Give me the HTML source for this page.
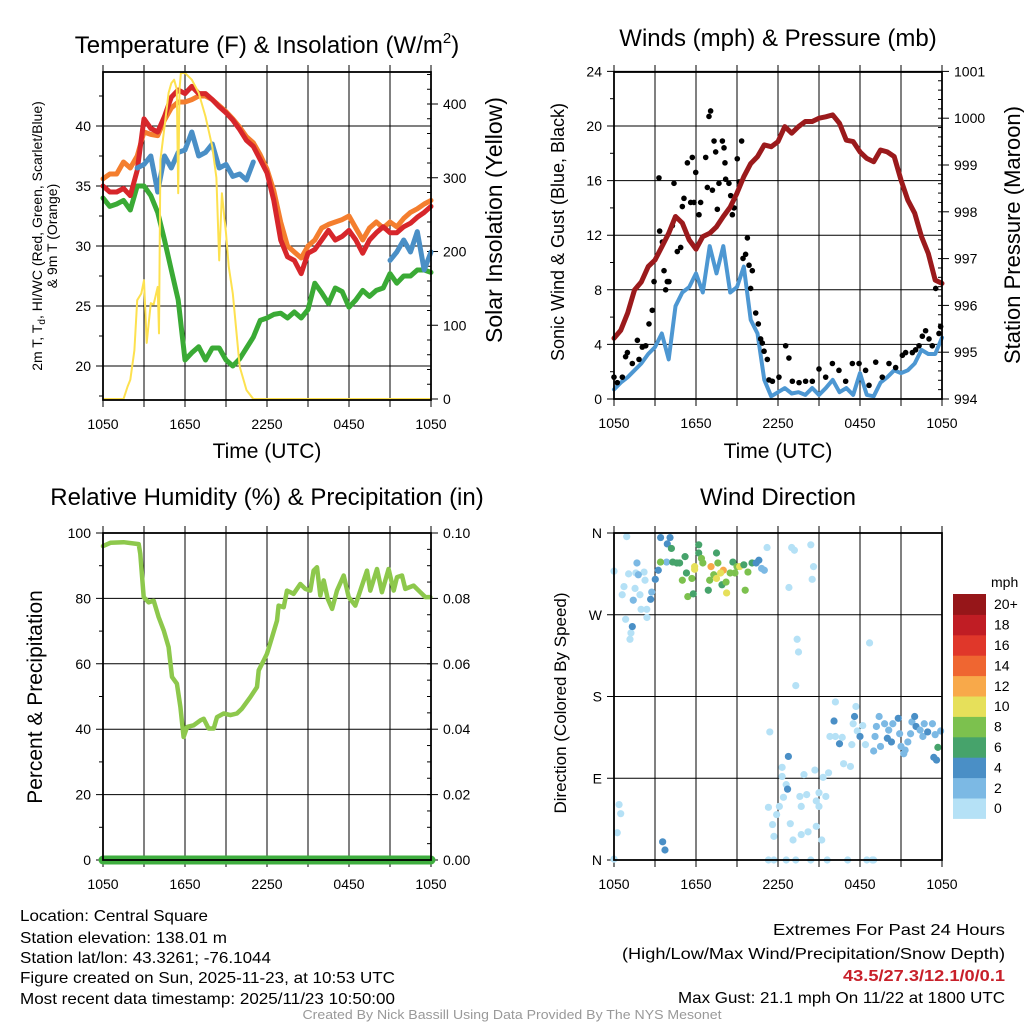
<!DOCTYPE html>
<html><head><meta charset="utf-8"><style>
html,body{margin:0;padding:0;background:#fff;}
svg{display:block;font-family:"Liberation Sans",sans-serif;}
</style></head><body>
<svg id="chart" width="1024" height="1024" viewBox="0 0 1024 1024" xmlns="http://www.w3.org/2000/svg">
<rect width="1024" height="1024" fill="#fff"/>
<g id="layer"></g>
<g font-size="24" text-anchor="middle" fill="#000">
<text x="267" y="53">Temperature (F) &amp; Insolation (W/m<tspan font-size="15" dy="-10">2</tspan><tspan dy="10">)</tspan></text>
<text x="778" y="46">Winds (mph) &amp; Pressure (mb)</text>
<text x="267" y="505">Relative Humidity (%) &amp; Precipitation (in)</text>
<text x="778" y="505">Wind Direction</text>
</g>
<g font-size="21" text-anchor="middle">
<text x="267" y="458">Time (UTC)</text>
<text x="778" y="458">Time (UTC)</text>
<text font-size="23" transform="translate(502,220) rotate(-90)">Solar Insolation (Yellow)</text>
<text font-size="22" transform="translate(1020,235) rotate(-90)">Station Pressure (Maroon)</text>
<text font-size="21" transform="translate(42,697) rotate(-90)">Percent &amp; Precipitation</text>
</g>
<g font-size="18" text-anchor="middle">
<text transform="translate(564,232) rotate(-90)">Sonic Wind &amp; Gust (Blue, Black)</text>
<text font-size="17" transform="translate(566,703) rotate(-90)">Direction (Colored By Speed)</text>
</g>
<g font-size="14" text-anchor="middle">
<text transform="translate(42,236) rotate(-90)">2m T, T<tspan font-size="10" dy="3">d</tspan><tspan dy="-3">, HI/WC (Red, Green, Scarlet/Blue)</tspan></text>
<text transform="translate(57,236) rotate(-90)">&amp; 9m T (Orange)</text>
</g>
<g font-size="16" fill="#000">
<text x="20" y="921" textLength="188" lengthAdjust="spacingAndGlyphs">Location: Central Square</text>
<text x="20" y="943" textLength="207" lengthAdjust="spacingAndGlyphs">Station elevation: 138.01 m</text>
<text x="20" y="963" textLength="251" lengthAdjust="spacingAndGlyphs">Station lat/lon: 43.3261; -76.1044</text>
<text x="20" y="983" textLength="375" lengthAdjust="spacingAndGlyphs">Figure created on Sun, 2025-11-23, at 10:53 UTC</text>
<text x="20" y="1004" textLength="375" lengthAdjust="spacingAndGlyphs">Most recent data timestamp: 2025/11/23 10:50:00</text>
</g>
<g font-size="16" text-anchor="end">
<text x="1005" y="935" textLength="232" lengthAdjust="spacingAndGlyphs">Extremes For Past 24 Hours</text>
<text x="1005" y="959" textLength="383" lengthAdjust="spacingAndGlyphs">(High/Low/Max Wind/Precipitation/Snow Depth)</text>
<text x="1005" y="981" fill="#c8202a" font-weight="bold" textLength="162" lengthAdjust="spacingAndGlyphs">43.5/27.3/12.1/0/0.1</text>
<text x="1005" y="1003" textLength="327" lengthAdjust="spacingAndGlyphs">Max Gust: 21.1 mph On 11/22 at 1800 UTC</text>
</g>
<text x="512" y="1019" font-size="13" fill="#999" text-anchor="middle" textLength="419" lengthAdjust="spacingAndGlyphs">Created By Nick Bassill Using Data Provided By The NYS Mesonet</text>
</svg>
<script>
// ---------- data ----------
const timeTickLabels = ["1050","","1650","","2250","","0450","","1050"];
const halfHours = [0,0.5,1,1.5,2,2.5,3,3.5,4,4.5,5,5.5,6,6.5,7,7.5,8,8.5,9,9.5,10,10.5,11,11.5,12,12.5,13,13.5,14,14.5,15,15.5,16,16.5,17,17.5,18,18.5,19,19.5,20,20.5,21,21.5,22,22.5,23,23.5,24];
const temp2m = [35,34.5,34.5,34.8,34.2,36.3,40.6,39.8,39.5,40.8,42.4,43,42.7,43.3,42.7,42.7,42.2,41.6,41.1,40.5,39.7,38.8,38.3,37.2,36.1,33.8,30.5,29.1,28.8,27.7,29.4,29.7,30.5,31.3,30.5,30.8,31.3,30.5,29.4,30.5,31.1,31.6,31.1,31.1,31.6,31.9,32.4,32.8,33.3];
const temp9m = [35.6,36,36,37,36.5,37.5,39.5,39.3,39.2,40.5,41.5,42,42,42.2,42.5,42.5,42.2,41.7,41.2,40.6,39.9,39.1,38.6,37.6,36.4,34.6,32,30,29.5,29,30,30.5,31.5,31.8,32,32.2,32.5,31.5,30.5,31.5,32,31.5,32,31.6,32.3,32.8,33.1,33.5,33.8];
const heatIndexWindChill = [null,null,null,null,null,36.5,36.8,37.5,34.5,37.5,36.5,37.8,38,39.5,37.5,37.8,38.5,36.5,36.8,35.8,36,35.5,37,null,null,null,null,null,null,null,null,null,null,null,null,null,null,null,null,null,null,null,28.8,29.5,30.5,29.5,31.2,28,29.5];
const dewPoint = [34,33.3,33.5,33.8,33,35,35,34.2,32.8,30.5,28,25.5,20.5,21.1,21.6,20.5,21.5,21.5,20.5,20,20.6,21.5,22.4,23.8,24,24.3,24.4,24,24.5,24,24.7,26.9,26.1,25.2,26.5,26.2,24.9,25.5,26.3,25.8,26.3,26.5,27.7,26.9,27.5,27.5,28,28,27.8];
const solarHours = [0,1.5,1.8,2,2.3,2.5,2.8,3,3.2,3.5,3.7,4,4.1,4.2,4.5,4.8,5,5.2,5.4,5.5,5.6,5.7,6,6.5,7,7.5,8,8.3,8.5,8.7,9,9.2,9.5,10,10.5,11,24];
const solarVals = [0,0,17,26,66,134,143,161,76,130,128,152,89,324,369,415,428,433,420,279,420,442,442,433,415,383,342,300,188,279,225,180,143,44,12,0,0];
const pressure = [995.3,995.47,995.84,996.33,996.5,996.83,996.97,997.25,997.54,997.9,997.76,997.4,997.2,997.47,997.54,997.68,997.9,998.1,998.4,998.75,999.03,999.18,999.43,999.39,999.5,999.82,999.68,999.82,999.93,999.93,1000,1000.03,1000.07,999.89,999.53,999.5,999.28,999.14,999.07,999.32,999.28,999.18,998.68,998.25,997.97,997.47,997.11,996.54,996.47];
const sonicWind = [0.7,1.2,1.6,2.1,2.6,3.3,3.8,4.8,2.9,6.8,7.8,8.2,9.2,7.8,11.2,9.2,11.2,7.8,8.2,9.7,5.8,4.8,1.4,0.2,0.5,0.8,0.4,0.5,0.3,0.8,0.3,0.8,1.4,0.5,0.8,0.3,1.9,0.3,0.2,1.2,1.6,2.1,1.9,2.1,2.6,3.6,3.3,3.3,4.5];
const gustHours = [0,0.24,0.61,0.85,0.98,1.34,1.71,1.83,2.07,2.32,2.56,2.8,2.93,3.29,3.34,3.54,3.66,3.78,3.9,4.02,4.27,4.39,4.51,4.63,4.88,5,5.12,5.37,5.61,5.73,5.85,5.98,6.22,6.34,6.71,6.83,6.95,7.07,7.2,7.32,7.44,7.56,7.68,7.93,8.05,8.12,8.17,8.41,8.54,8.66,8.78,9.02,9.15,9.34,9.44,9.63,9.76,9.88,10,10.12,10.37,10.56,10.73,10.85,10.98,11.22,11.34,11.59,12.07,12.56,12.8,13.05,13.54,14.02,14.51,15,15.49,15.98,16.46,16.95,17.44,17.93,18.41,18.66,19.15,19.63,20.12,20.61,21.1,21.34,21.83,22.07,22.32,22.56,22.8,23.05,23.29,23.54,23.78,23.9];
const gustMph = [1.6,1.2,1.6,3.1,3.4,2.6,4.3,2.9,3.8,3.9,5.5,6.5,8.6,16.2,12.3,11.5,9.4,8,8.6,8.6,12.7,15.8,13.3,10.8,11.1,14.1,14.7,17.3,14.4,17.7,14.4,16.6,13.5,14.4,17.7,15.5,20.7,21.1,15.3,18.9,18.1,13.9,15.8,18.9,18.4,17.3,16.1,15.8,14.9,13.5,14,17.6,15.9,18.9,10.3,10.6,11.8,9.8,8.1,9.4,6.3,5.5,4.4,4.1,3.5,2.9,1.4,1.3,1.6,3.9,3,1.3,1.2,1.3,1.3,2.2,1.6,2.6,2.1,1.3,2.6,2.6,2.1,1,2.7,1.6,2.6,2.3,3.2,3.4,3.4,3.6,3.9,4.6,5,4.4,3.9,8.1,4.8,5.3];
const rhHours = [0,0.54,1.51,2.61,2.73,2.98,3.34,3.71,4.07,4.44,4.8,5.05,5.41,5.66,5.9,6.15,6.63,7.12,7.37,7.73,8.1,8.34,8.83,9.32,9.8,10.17,10.78,11.27,11.39,11.76,12,12.37,12.73,12.85,13.22,13.46,13.95,14.44,14.8,15.17,15.41,15.66,15.9,16.15,16.44,16.76,17.12,17.61,17.98,18.46,18.83,19.32,19.56,20.05,20.41,20.9,21.27,21.51,21.88,22.12,22.73,23.22,23.59,23.95];
const rhVals = [96,97,97.2,96.6,93.6,80.4,78.8,79.3,74.3,70.2,65.1,56,53.9,46.8,37.6,40.7,41.2,42.7,43.2,40.2,40.2,43.7,44.8,44.3,44.8,46.3,49.8,52.9,58,61,63.1,68.2,73.2,77.8,77.3,82.4,81.4,84.4,82.9,82.4,88.5,89.5,80.9,85.5,79.9,76.8,82.4,87,80.4,77.8,82.4,88.5,82.4,89,81.9,89,82.4,86.5,87,82.9,83.9,81.9,80.4,80.4];
const precipHours = [0,24];
const precipVals = [0,0];
const dirHours = [0,0.93,0.6,0.73,1.07,1.6,1.9,2.2,2.27,1.54,1.98,2.4,2.41,0.85,1.24,1.17,2.76,1.68,1.41,1.78,1.34,2.68,3.02,3.24,3.41,4.1,3.9,3.85,3.4,4.2,4.3,4.8,5.2,5,5.4,5.8,5.7,5.9,6.2,6.2,6.4,7,6.9,7.1,7.3,7.5,7.5,7.6,7.9,8,8.2,8.24,8.5,8.7,9,9.2,9.6,9.8,10.1,10.4,10.6,10.8,11,4.6,5.3,6.5,5.9,7.8,8.85,9.5,11.2,13,13.2,14.4,14.6,14.5,12.8,13.4,13.5,18.7,13.3,11.4,0.37,0.49,0.24,0,3.56,3.73,11.3,11.6,11.7,11.9,12.1,12.3,12.3,12.4,12.6,12.7,12.76,12.9,13.1,13.6,13.7,13.9,14.1,14.2,13.7,14.7,14.8,15,15,15.2,15.3,15.5,15.7,14.8,11.3,11.7,12.6,13.3,14.4,15.6,17.1,18.5,18.9,19,16.2,16.1,15.8,16.2,16.5,16.7,16.8,17.3,17.4,17.5,17.7,17.6,17.8,18,18.2,18.4,19,19.1,19.2,19.4,19.5,19.8,20,20.1,20.3,20.4,20.8,20.9,21,21.2,21.3,21.5,21.7,21.8,22,22.1,22.4,22.6,22.7,22.95,23.3,23.5,23.7,23.4,23.6,23.9];
const dirDegs = [318,356,292,301,315,316,292,317,308,299,276,276,267,265,250,243,295,327,286,314,257,287,309,319,355,355,348,328,328,343,328,327,334,308,290,293,310,320,347,338,332,308,297,323,314,338,310,327,303,319,306,294,316,328,323,323,297,317,327,327,330,321,319,327,316,327,323,316,316,325,344,344,341,347,323,309,300,243,229,239,192,141,61,51,30,1,20,11,58,39,26,50,59,92,102,69,83,78,114,40,22,70,59,94,72,31,28,99,65,74,59,22,91,70,96,37,0,0,0,0,0,0,0,0,0,0,174,153,136,136,128,135,106,103,127,150,169,158,142,136,148,127,120,136,147,158,125,150,134,143,130,150,156,139,125,117,121,130,139,152,158,147,143,136,150,141,150,138,124,113,110,142];
const dirSpeeds = [1,1,1,1,1,1,1,1,1,1,1,1,1,1,1,1,3,3,3,3,5,5,5,5,5,5,5,3,8,7,6,7,7,8,8,7,9,10,6,7,8,8,6,13,9,6,10,9,6,13,8,10,8,7,9,11,8,8,6,5,4,3,2,6,7,8,10,10,8,7,1,1,1,1,1,1,1,1,1,1,1,1,1,1,1,1,5,5,1,1,1,1,1,1,1,1,1,5,5,1,1,1,1,1,1,1,1,1,1,1,1,1,1,1,1,1,1,1,1,1,1,1,1,1,1,1,1,5,1,1,5,1,1,1,1,1,1,5,1,5,1,1,3,3,3,3,3,3,5,3,5,3,5,3,3,3,3,3,3,3,5,5,3,3,3,5,3,3,6,5,5,3];
const speedBinLabels = ["0","2","4","6","8","10","12","14","16","18","20+"];
const speedBinColors = ["#b5e1f6","#7cb9e4","#4a8fc6","#46a36b","#7cc14e","#e6e05a","#f8a94a","#ef6631","#e0372a","#c01d24","#961619"];

// ---------- scales ----------
const P1 = {x0:103, x1:431, top:72, bottom:400};
const P2 = {x0:614, x1:942, top:72, bottom:399};
const P3 = {x0:103, x1:431, top:533, bottom:860};
const P4 = {x0:614, x1:942, top:533, bottom:860};
function xs(p,h){ return p.x0 + h/24*(p.x1-p.x0); }
function yTemp(t){ return 366 - (t-20)*12; }
function ySolar(s){ return 399 - s*0.7375; }
function yWind(w){ return 399 - w*13.65; }
function yPres(p){ return 399 - (p-994)*46.8; }
function yRH(r){ return 860 - r*3.27; }
function yPrecip(v){ return 860 - v*3270; }
function yDir(d){ return 860 - d/360*327; }

const NS = "http://www.w3.org/2000/svg";
const layer = document.getElementById("layer");
function mk(tag, attrs, parent){
  const e = document.createElementNS(NS, tag);
  for (const k in attrs) e.setAttribute(k, attrs[k]);
  (parent||layer).appendChild(e);
  return e;
}
function txt(s, x, y, anchor, size, parent){
  const t = mk("text", {x:x, y:y, "text-anchor":anchor, "font-size":size}, parent);
  t.textContent = s;
  return t;
}

function frame(p, name, yTicksL, yFnL, labelsL, minorL, yTicksR, yFnR, labelsR, minorR){
  const g = mk("g", {});
  
  
  for (let i=0;i<=8;i++){
    const x = xs(p, i*3);
    const gl = mk("line", {x1:x, x2:x, y1:p.top-7, y2:p.bottom+7, stroke:"#000", "stroke-width":1}, g);
    
    
    if (timeTickLabels[i]){
      const t = txt(timeTickLabels[i], x, p.bottom+29, "middle", 14, g);
      
      
    }
  }
  yTicksL.forEach((v,i)=>{
    const y = yFnL(v);
    const gl = mk("line", {x1:p.x0-7, x2:p.x1, y1:y, y2:y, stroke:"#000", "stroke-width":1}, g);
    
    
    const t = txt(labelsL[i], p.x0-12, y+5, "end", 14, g);
    
    
  });
  minorL.forEach(v=>{
    const y = yFnL(v);
    mk("line", {x1:p.x0-4, x2:p.x0, y1:y, y2:y, stroke:"#000", "stroke-width":1}, g);
  });
  if (yTicksR){
    yTicksR.forEach((v,i)=>{
      const y = yFnR(v);
      mk("line", {x1:p.x1, x2:p.x1+7, y1:y, y2:y, stroke:"#000", "stroke-width":1}, g);
      const t = txt(labelsR[i], p.x1+12, y+5, "start", 14, g);
      
      
    });
    minorR.forEach(v=>{
      const y = yFnR(v);
      mk("line", {x1:p.x1-4, x2:p.x1, y1:y, y2:y, stroke:"#000", "stroke-width":1}, g);
    });
  }
  return g;
}
function border(p, name){
  const r = mk("rect", {x:p.x0, y:p.top, width:p.x1-p.x0, height:p.bottom-p.top, fill:"none", stroke:"#000", "stroke-width":1.8});
  
  
}
function line(xsArr, ysArr, p, fx, fy, color, w, name){
  let d = "", pen = false;
  for (let i=0;i<xsArr.length;i++){
    const v = ysArr[i];
    if (v === null){ pen = false; continue; }
    d += (pen ? "L" : "M") + xs(p, xsArr[i]).toFixed(1) + "," + fy(v).toFixed(1);
    pen = true;
  }
  const e = mk("path", {d:d, fill:"none", stroke:color, "stroke-width":w, "stroke-linejoin":"round", "stroke-linecap":"round"});
  
  
  return e;
}
function range(a,b,s){ const r=[]; for(let v=a; v<=b+1e-9; v+=s) r.push(+v.toFixed(4)); return r; }

// ---------- Panel 1 ----------
frame(P1, "temp-panel", [20,25,30,35,40], yTemp, ["20","25","30","35","40"], [17.5,22.5,27.5,32.5,37.5,42.5],
      [0,100,200,300,400], ySolar, ["0","100","200","300","400"], range(20,440,20));
line(halfHours, dewPoint, P1, xs, yTemp, "#3aaa35", 5, "dewpoint-line");
line(halfHours, temp9m, P1, xs, yTemp, "#f47e2e", 5, "temp-9m-line");
line(halfHours, temp2m, P1, xs, yTemp, "#d7262b", 5, "temp-2m-line");
line(halfHours, heatIndexWindChill, P1, xs, yTemp, "#4a8fc6", 5, "heat-index-wind-chill-line");
line(solarHours, solarVals, P1, xs, ySolar, "#fde14f", 2, "solar-insolation-line");
border(P1, "temp-panel");

// ---------- Panel 2 ----------
frame(P2, "wind-panel", [0,4,8,12,16,20,24], yWind, ["0","4","8","12","16","20","24"], [2,6,10,14,18,22],
      [994,995,996,997,998,999,1000,1001], yPres, ["994","995","996","997","998","999","1000","1001"], range(994.2,1000.8,0.2));
line(halfHours, sonicWind, P2, xs, yWind, "#4d97d2", 4, "sonic-wind-line");
gustHours.forEach((h,i)=>{
  const c = mk("circle", {cx:xs(P2,h), cy:yWind(gustMph[i]), r:2.8, fill:"#000"});
  
  
});
line(halfHours, pressure, P2, xs, yPres, "#9b1a1c", 5, "pressure-line");
border(P2, "wind-panel");

// ---------- Panel 3 ----------
frame(P3, "rh-panel", [0,20,40,60,80,100], yRH, ["0","20","40","60","80","100"], [10,30,50,70,90],
      [0,0.02,0.04,0.06,0.08,0.1], yPrecip, ["0.00","0.02","0.04","0.06","0.08","0.10"], range(0.005,0.095,0.005));
line(rhHours, rhVals, P3, xs, yRH, "#8dc84c", 4.5, "relative-humidity-line");
line(precipHours, precipVals, P3, xs, yPrecip, "#3fae3f", 9, "precipitation-line");
border(P3, "rh-panel");

// ---------- Panel 4 ----------
const dirLabels = ["N","E","S","W","N"];
frame(P4, "dir-panel", [0,90,180,270,360], yDir, dirLabels, [], null);
dirHours.forEach((h,i)=>{
  const bin = Math.min(10, Math.floor(dirSpeeds[i]/2));
  const c = mk("circle", {cx:xs(P4,h), cy:yDir(dirDegs[i]), r:3.6, fill:speedBinColors[bin]});
  
  
});
border(P4, "dir-panel");

// colorbar
const cb = mk("g", {});


const cbTop = 594, cbH = 20.4;
const mphLbl = txt("mph", 991, 587, "start", 14, cb);


speedBinLabels.forEach((lab, i)=>{
  const k = speedBinLabels.length - 1 - i;
  const y = cbTop + k*cbH;
  const r = mk("rect", {x:953, y:y, width:33, height:cbH+0.5, fill:speedBinColors[i]}, cb);
  
  
  const t = txt(lab, 994, y+cbH/2+5, "start", 14, cb);
  
  
});
</script>
</body></html>
